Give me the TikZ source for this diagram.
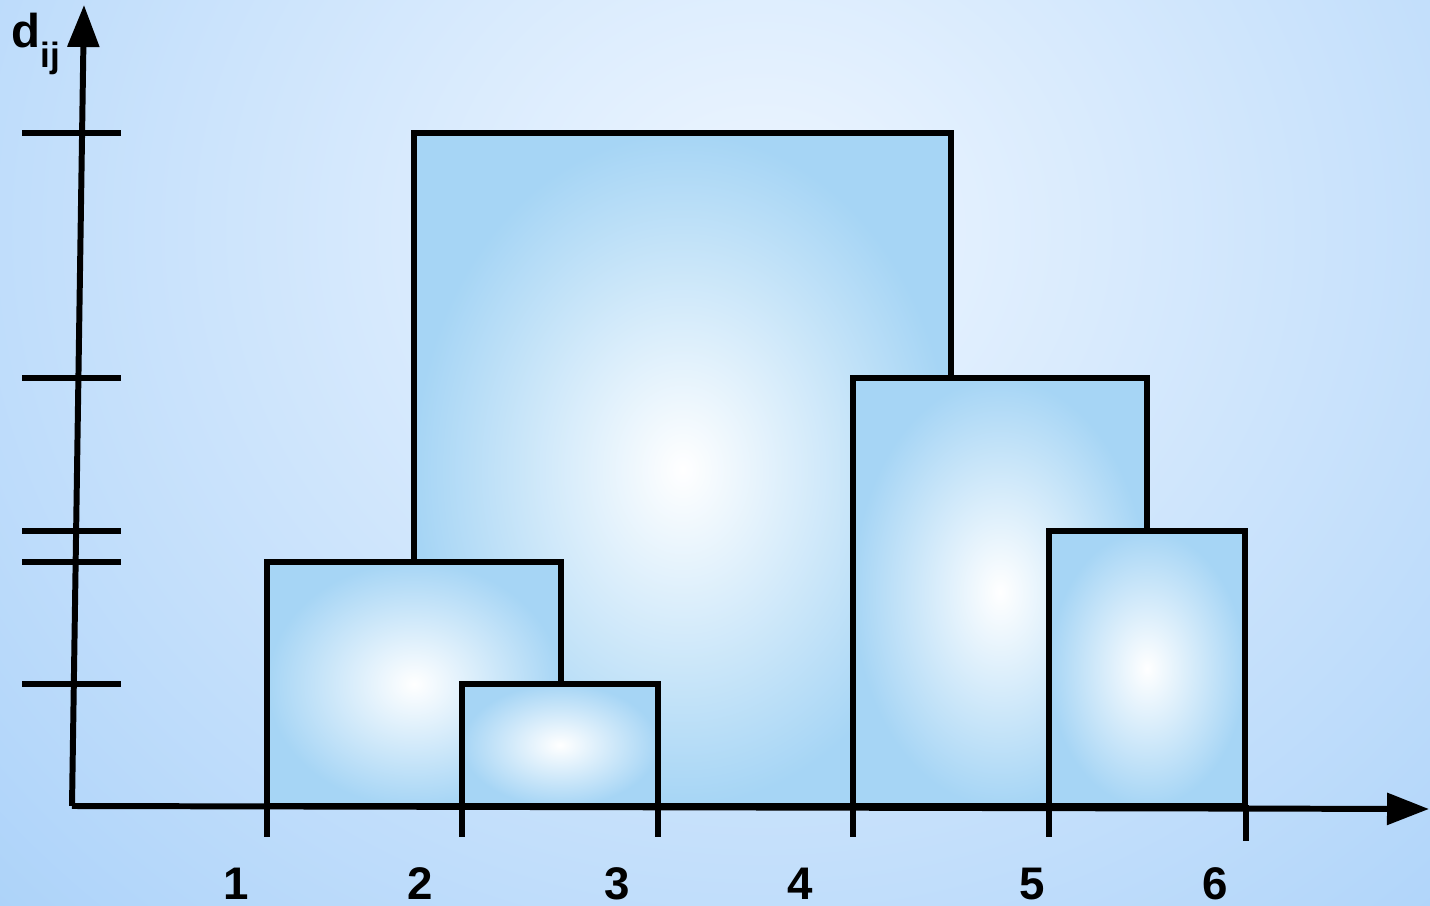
\documentclass[tikz,border=0pt]{standalone}
\usepackage{fontspec}
\setmainfont{Liberation Sans}
\usetikzlibrary{arrows.meta}
\definecolor{plotBgIn}{HTML}{EEF6FF}
\definecolor{plotBgOut}{HTML}{ABD2F9}
\definecolor{clusterBlue}{HTML}{A6D5F5}
\begin{document}
\begin{tikzpicture}[
        x=0.1mm, y=-0.1mm,
        axis/.style={line width=1.7pt, -{Triangle[length=4.2mm, width=3.1mm]}},
        tick/.style={line width=1.7pt},
        cluster/.style={draw=black, line width=1.6pt, inner color=white,
                        outer color=clusterBlue},
        lbl/.style={font=\fontsize{13}{13}\selectfont\bfseries, inner sep=0pt},
      ]
        % Sfondo
        \useasboundingbox (0,0) rectangle (1430,906);
        \begin{scope}
          \clip (0,0) rectangle (1430,906);
          \shade[inner color=plotBgIn, outer color=plotBgOut]
            (760,230) ellipse [x radius=1100, y radius=1000];
        \end{scope}
        % Cluster (dal piu' alto al piu' basso)
        \draw[cluster] (414,133) rectangle (951,806);
        \draw[cluster] (267,562) rectangle (561,806);
        \draw[cluster] (462,684) rectangle (658,806);
        \draw[cluster] (853,378) rectangle (1147,806);
        \draw[cluster] (1049,531) rectangle (1245,806);
        % Assi
        \coordinate (origin) at (72,806);
        \coordinate (yend) at (84,5);
        \coordinate (xend) at (1429,809);
        \draw[axis] (origin) -- (yend);
        \draw[axis] (origin) -- (xend);
        \node[lbl, font=\fontsize{13.5}{13.5}\selectfont\bfseries, anchor=base west]
          (dlab) at (11,48) {d\raisebox{-2mm}{\fontsize{10}{10}\selectfont ij}};
        % Tacche sull'asse y
        \foreach \yy in {133,378,531,562,684}
          \draw[tick] (22,\yy) -- (121,\yy);
        % Tacche e numeri sull'asse x
        \foreach \xx/\xb in {267/837,462/837,658/837,853/837,1049/837,1246/841}
          \draw[tick] (\xx,805) -- (\xx,\xb);
        \foreach \n/\xx in {1/236,2/420,3/617,4/800,5/1032,6/1215}
          \node[lbl] (obj\n) at (\xx,884) {\n};
      \end{tikzpicture}
\end{document}
